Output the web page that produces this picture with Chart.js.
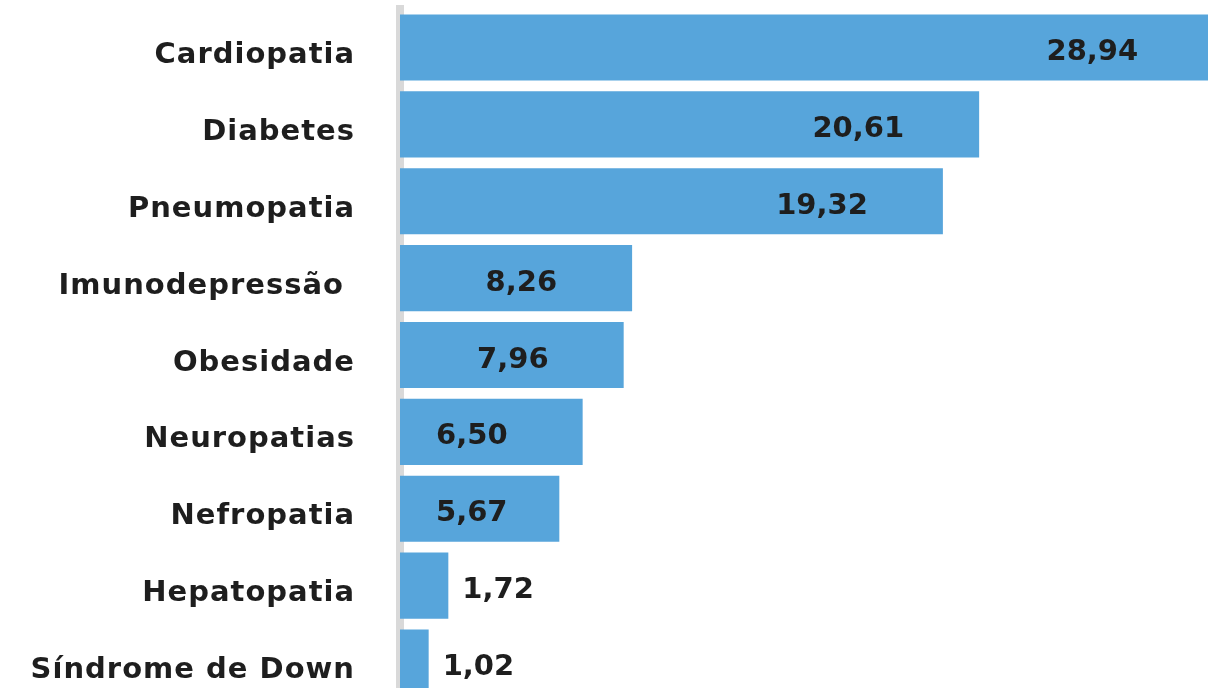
<!DOCTYPE html>
<html>
<head>
<meta charset="utf-8">
<script src="https://cdn.jsdelivr.net/npm/chart.js@4.4.1/dist/chart.umd.min.js"></script>
<style>
  html, body { margin: 0; padding: 0; background: #fff; overflow: hidden; }
  #wrap { position: relative; width: 1243px; height: 701px; }
</style>
</head>
<body>
<div id="wrap"><canvas id="chart" width="1243" height="701"></canvas></div>
<script>
// ---------- data ----------
const categories = [
  "Cardiopatia", "Diabetes", "Pneumopatia", "Imunodepressão ", "Obesidade",
  "Neuropatias", "Nefropatia", "Hepatopatia", "Síndrome de Down"
];
const values = [28.94, 20.61, 19.32, 8.26, 7.96, 6.50, 5.67, 1.72, 1.02];

const BAR_COLOR = "#57A5DB";
const TEXT_COLOR = "#1E1E1E";

const fmt = v => v.toFixed(2).replace(".", ",");

// wider letters for the category names
const spacingPlugin = {
  id: "spacing",
  beforeDraw(chart) { chart.ctx.letterSpacing = "1px"; },
  afterDraw(chart) { chart.ctx.letterSpacing = "0px"; }
};

// value labels on / next to the bars
const valueLabels = {
  id: "valueLabels",
  afterDatasetsDraw(chart) {
    const ctx = chart.ctx;
    const meta = chart.getDatasetMeta(0);
    ctx.save();
    ctx.letterSpacing = "0px";
    ctx.font = "bold 29px 'DejaVu Sans'";
    ctx.fillStyle = TEXT_COLOR;
    ctx.textBaseline = "middle";
    ctx.textAlign = "left";
    meta.data.forEach((bar, i) => {
      const txt = fmt(values[i]);
      const w = ctx.measureText(txt).width;
      const y = bar.y + 5;
      if (values[i] >= 3) {
        let x = bar.x - 75 - w;
        if (x < bar.base + 36) x = bar.base + 36;
        ctx.fillText(txt, x, y);
      } else {
        ctx.fillText(txt, bar.x + 14, y);
      }
    });
    ctx.restore();
  }
};

new Chart(document.getElementById("chart"), {
  type: "bar",
  data: {
    labels: categories,
    datasets: [{
      data: values,
      backgroundColor: BAR_COLOR,
      borderWidth: 0,
      barPercentage: 0.86,
      categoryPercentage: 1.0
    }]
  },
  options: {
    indexAxis: "y",
    responsive: false,
    animation: false,
    devicePixelRatio: 1,
    layout: { padding: { top: 9, right: 0, bottom: 0, left: 0 } },
    plugins: {
      legend: { display: false },
      tooltip: { enabled: false }
    },
    scales: {
      x: {
        display: false,
        min: 0,
        max: 30
      },
      y: {
        afterFit(scale) {
          scale.width = 400;
          scale.paddingTop = 0;
          scale.paddingBottom = 0;
        },
        grid: { display: false, drawTicks: false },
        border: { display: true, color: "#D9D9D9", width: 8 },
        ticks: {
          padding: 45,
          labelOffset: 8,
          color: TEXT_COLOR,
          font: { family: "'DejaVu Sans'", size: 29, weight: "bold" }
        }
      }
    }
  },
  plugins: [spacingPlugin, valueLabels]
});
</script>
</body>
</html>
